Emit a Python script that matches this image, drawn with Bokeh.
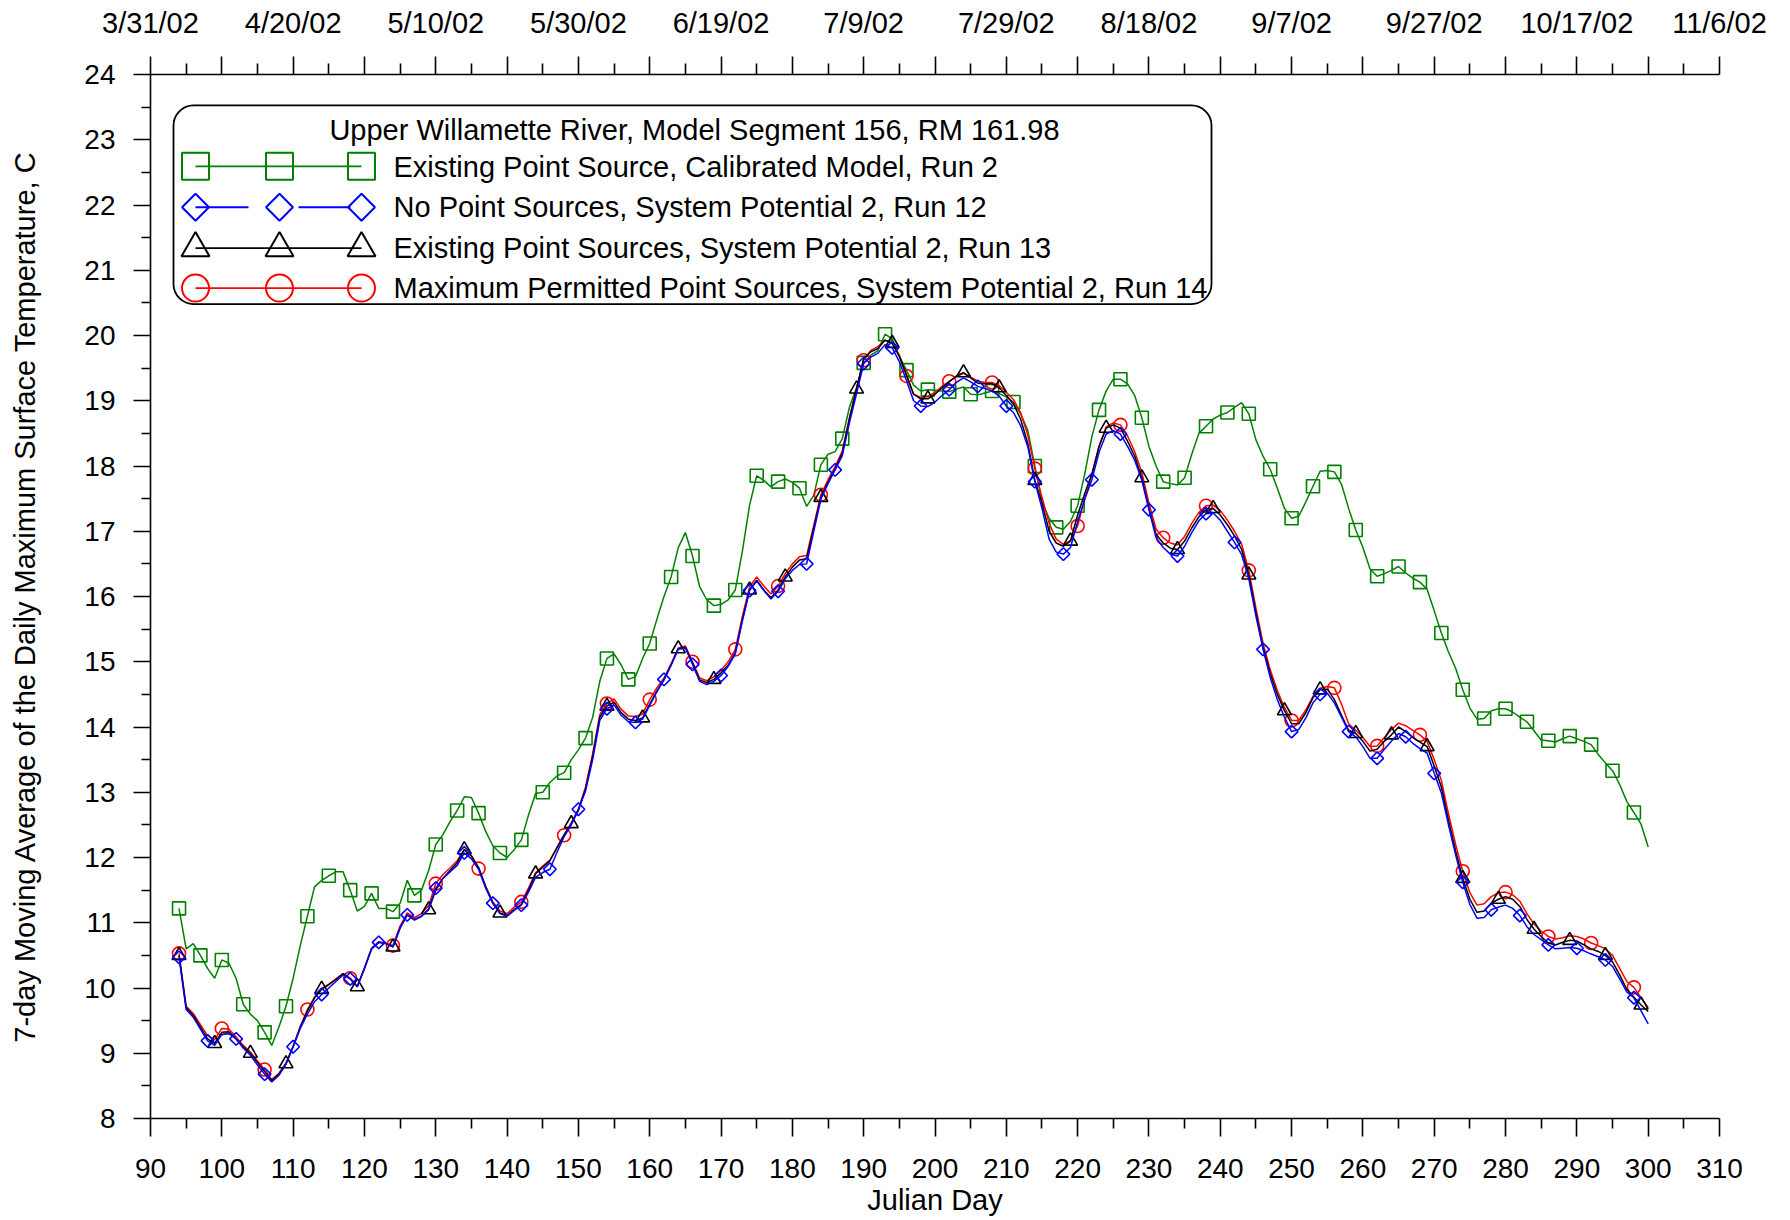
from datetime import date, timedelta
import numpy as np
from bokeh.plotting import figure
from bokeh.models import LinearAxis, FixedTicker, Range1d, BoxAnnotation, Label
from bokeh.embed import file_html
from bokeh.resources import INLINE

# ---------------- data ----------------
days = list(range(94, 301))

run2 = [
    11.22, 10.60, 10.68, 10.50, 10.30, 10.15, 10.43, 10.38, 10.15, 9.75,
    9.60, 9.50, 9.32, 9.12, 9.40, 9.72, 10.15, 10.65, 11.10, 11.55,
    11.65, 11.72, 11.78, 11.78, 11.50, 11.18, 11.25, 11.45, 11.22, 11.22,
    11.17, 11.30, 11.65, 11.42, 11.50, 11.80, 12.20, 12.35, 12.55, 12.72,
    12.93, 12.92, 12.68, 12.40, 12.18, 12.07, 12.00, 12.12, 12.27, 12.65,
    12.98, 13.00, 13.15, 13.25, 13.30, 13.50, 13.65, 13.83, 14.15, 14.70,
    15.05, 15.12, 14.95, 14.73, 14.77, 15.05, 15.28, 15.65, 16.00, 16.30,
    16.75, 16.98, 16.62, 16.15, 15.95, 15.86, 15.88, 15.95, 16.10, 16.70,
    17.40, 17.85, 17.78, 17.68, 17.76, 17.80, 17.75, 17.66, 17.38, 17.55,
    18.02, 18.18, 18.22, 18.42, 18.90, 19.20, 19.58, 19.70, 19.77, 20.02,
    19.95, 19.68, 19.47, 19.24, 19.15, 19.17, 19.16, 19.15, 19.14, 19.18,
    19.21, 19.10, 19.09, 19.12, 19.15, 19.11, 19.06, 18.98, 18.80, 18.55,
    18.00, 17.45, 17.20, 17.06, 17.03, 17.15, 17.39, 17.88, 18.45, 18.86,
    19.15, 19.33, 19.33, 19.26, 19.08, 18.74, 18.30, 18.00, 17.76, 17.73,
    17.71, 17.82, 18.18, 18.50, 18.61, 18.72, 18.78, 18.82, 18.90, 18.97,
    18.80, 18.40, 18.15, 17.95, 17.66, 17.35, 17.20, 17.23, 17.45, 17.69,
    17.92, 17.93, 17.91, 17.72, 17.35, 17.02, 16.75, 16.42, 16.31, 16.35,
    16.40, 16.46, 16.36, 16.28, 16.22, 16.11, 15.78, 15.44, 15.15, 14.90,
    14.57, 14.29, 14.12, 14.13, 14.25, 14.28, 14.28, 14.23, 14.15, 14.08,
    13.94, 13.80, 13.79, 13.77, 13.82, 13.86, 13.82, 13.78, 13.73, 13.58,
    13.45, 13.33, 13.12, 12.86, 12.69, 12.51, 12.16,
]

run12 = [
    10.47, 9.67, 9.55, 9.37, 9.19, 9.12, 9.29, 9.30, 9.22, 9.08,
    8.97, 8.82, 8.68, 8.56, 8.66, 8.83, 9.10, 9.38, 9.60, 9.79,
    9.90, 10.00, 10.10, 10.20, 10.14, 10.02, 10.30, 10.60, 10.70, 10.68,
    10.63, 10.92, 11.12, 11.04, 11.10, 11.21, 11.53, 11.68, 11.78, 11.88,
    12.07, 11.98, 11.82, 11.53, 11.30, 11.14, 11.10, 11.19, 11.27, 11.47,
    11.70, 11.77, 11.82, 12.08, 12.32, 12.50, 12.74, 13.02, 13.50, 14.10,
    14.28, 14.34, 14.18, 14.08, 14.07, 14.12, 14.33, 14.54, 14.73, 14.95,
    15.19, 15.21, 14.96, 14.70, 14.65, 14.70, 14.79, 14.93, 15.12, 15.63,
    16.09, 16.24, 16.09, 15.96, 16.08, 16.27, 16.40, 16.49, 16.50, 17.00,
    17.49, 17.73, 17.94, 18.16, 18.66, 19.11, 19.57, 19.67, 19.73, 19.86,
    19.81, 19.60, 19.31, 19.00, 18.92, 18.91, 18.98, 19.08, 19.17, 19.28,
    19.35, 19.29, 19.22, 19.19, 19.15, 19.07, 18.92, 18.82, 18.62, 18.30,
    17.76, 17.35, 16.88, 16.68, 16.65, 16.75, 17.15, 17.49, 17.79, 18.21,
    18.49, 18.54, 18.49, 18.30, 18.09, 17.78, 17.33, 16.90, 16.75, 16.65,
    16.62, 16.77, 16.98, 17.16, 17.27, 17.28, 17.17, 17.00, 16.83, 16.64,
    16.27, 15.70, 15.19, 14.76, 14.42, 14.15, 13.93, 13.96, 14.14, 14.37,
    14.50, 14.52, 14.37, 14.15, 13.93, 13.85, 13.70, 13.52, 13.52, 13.66,
    13.78, 13.90, 13.85, 13.75, 13.67, 13.60, 13.29, 12.99, 12.50, 12.04,
    11.62, 11.28, 11.07, 11.08, 11.20, 11.24, 11.27, 11.22, 11.11, 10.94,
    10.82, 10.74, 10.66, 10.60, 10.61, 10.62, 10.61, 10.57, 10.52, 10.48,
    10.43, 10.33, 10.14, 9.94, 9.85, 9.65, 9.45,
]

run13 = [
    10.50, 9.70, 9.58, 9.40, 9.22, 9.15, 9.32, 9.33, 9.22, 9.10,
    9.00, 8.86, 8.72, 8.58, 8.68, 8.84, 9.10, 9.40, 9.65, 9.85,
    9.98, 10.05, 10.13, 10.22, 10.14, 10.02, 10.30, 10.60, 10.70, 10.68,
    10.63, 10.92, 11.12, 11.05, 11.10, 11.20, 11.50, 11.68, 11.80, 11.92,
    12.12, 12.02, 11.85, 11.55, 11.30, 11.15, 11.11, 11.20, 11.28, 11.50,
    11.75, 11.85, 11.95, 12.15, 12.35, 12.52, 12.72, 13.05, 13.55, 14.15,
    14.32, 14.38, 14.22, 14.12, 14.10, 14.14, 14.35, 14.55, 14.72, 14.95,
    15.20, 15.22, 14.98, 14.72, 14.68, 14.73, 14.83, 14.95, 15.14, 15.65,
    16.10, 16.25, 16.10, 15.98, 16.10, 16.30, 16.45, 16.56, 16.58, 17.05,
    17.52, 17.75, 17.96, 18.20, 18.72, 19.18, 19.65, 19.75, 19.80, 19.93,
    19.88, 19.68, 19.40, 19.10, 19.03, 19.03, 19.10, 19.20, 19.29, 19.38,
    19.43, 19.35, 19.27, 19.26, 19.26, 19.20, 19.08, 18.95, 18.72, 18.35,
    17.78, 17.43, 17.00, 16.82, 16.77, 16.85, 17.25, 17.58, 17.88, 18.30,
    18.58, 18.63, 18.58, 18.38, 18.15, 17.82, 17.35, 16.95, 16.82, 16.74,
    16.72, 16.85, 17.05, 17.22, 17.33, 17.35, 17.25, 17.10, 16.93, 16.72,
    16.33, 15.75, 15.22, 14.82, 14.50, 14.25, 14.05, 14.05, 14.22, 14.45,
    14.57, 14.58, 14.42, 14.18, 13.95, 13.90, 13.78, 13.63, 13.66, 13.78,
    13.88, 14.00, 13.93, 13.84, 13.77, 13.70, 13.40, 13.08, 12.57, 12.10,
    11.68, 11.36, 11.16, 11.18, 11.30, 11.36, 11.40, 11.36, 11.25, 11.05,
    10.90, 10.79, 10.69, 10.66, 10.70, 10.73, 10.72, 10.66, 10.60, 10.56,
    10.50, 10.40, 10.20, 9.98, 9.86, 9.74, 9.64,
]

run14 = [
    10.53, 9.72, 9.61, 9.44, 9.27, 9.21, 9.38, 9.37, 9.25, 9.12,
    9.02, 8.88, 8.75, 8.60, 8.69, 8.85, 9.11, 9.41, 9.67, 9.86,
    9.99, 10.06, 10.14, 10.22, 10.15, 10.03, 10.31, 10.61, 10.71, 10.69,
    10.65, 10.95, 11.15, 11.08, 11.14, 11.26, 11.60, 11.74, 11.84, 11.95,
    12.12, 12.03, 11.83, 11.56, 11.32, 11.18, 11.14, 11.24, 11.32, 11.53,
    11.77, 11.87, 11.96, 12.15, 12.34, 12.53, 12.74, 13.08, 13.59, 14.19,
    14.36, 14.43, 14.27, 14.17, 14.16, 14.20, 14.42, 14.60, 14.75, 14.97,
    15.21, 15.24, 15.00, 14.75, 14.71, 14.77, 14.87, 15.00, 15.19, 15.70,
    16.15, 16.30, 16.16, 16.04, 16.16, 16.35, 16.50, 16.61, 16.63, 17.09,
    17.56, 17.79, 17.99, 18.23, 18.74, 19.19, 19.62, 19.77, 19.83, 19.93,
    19.88, 19.70, 19.38, 19.10, 19.05, 19.06, 19.13, 19.22, 19.30, 19.37,
    19.42, 19.36, 19.30, 19.28, 19.28, 19.23, 19.13, 19.02, 18.82, 18.48,
    17.96, 17.52, 17.12, 16.88, 16.80, 16.86, 17.08, 17.50, 17.86, 18.30,
    18.60, 18.66, 18.63, 18.46, 18.22, 17.90, 17.43, 17.03, 16.90, 16.82,
    16.79, 16.92, 17.12, 17.29, 17.39, 17.40, 17.32, 17.17, 17.00, 16.80,
    16.40, 15.82, 15.28, 14.88, 14.56, 14.30, 14.10, 14.10, 14.26, 14.47,
    14.59, 14.62, 14.60, 14.35, 14.05, 13.95, 13.84, 13.70, 13.71, 13.84,
    13.96, 14.06, 14.02, 13.95, 13.88, 13.78, 13.50, 13.18, 12.67, 12.20,
    11.79, 11.46, 11.27, 11.29, 11.40, 11.46, 11.47, 11.43, 11.33, 11.14,
    10.98, 10.87, 10.79, 10.75, 10.77, 10.80, 10.79, 10.75, 10.69, 10.65,
    10.60, 10.50, 10.30, 10.10, 10.01, 9.85, 9.70,
]

x_major = list(range(90, 311, 10))
x_minor = list(range(95, 310, 10))
y_major = list(range(8, 25))
y_minor = [v + 0.5 for v in range(8, 24)]
date_ticks = list(range(90, 311, 20))

legend_title = "Upper Willamette River, Model Segment 156, RM 161.98"
series_names = [
    "Existing Point Source, Calibrated Model, Run 2",
    "No Point Sources, System Potential 2, Run 12",
    "Existing Point Sources, System Potential 2, Run 13",
    "Maximum Permitted Point Sources, System Potential 2, Run 14",
]

# ---------------- layout / style ----------------
FONT = "Liberation Sans"
FS_NUM = "28px"
FS_TXT = "29px"
X0, X1, Y0, Y1 = 90, 310, 8, 24
BL, BR, BT, BB = 150, 64, 74, 98
FRAME_W, FRAME_H = 1569, 1046
W, H = BL + FRAME_W + BR, BT + FRAME_H + BB
# frame edges on the page (pixels)
FL, FR = BL, BL + FRAME_W
FT, FB = BT, BT + FRAME_H


def px_x(px):
    return X0 + (px - FL) * (X1 - X0) / (FR - FL)


def px_y(py):
    return Y1 - (py - FT) * (Y1 - Y0) / (FB - FT)


p = figure(width=W, height=H, x_range=Range1d(X0, X1), y_range=Range1d(Y0, Y1),
           output_backend="svg", toolbar_location=None,
           min_border_left=BL, min_border_right=BR, min_border_top=BT, min_border_bottom=BB)
p.xgrid.visible = False
p.ygrid.visible = False
p.outline_line_color = None
p.background_fill_color = "white"
p.border_fill_color = "white"


def style_axis(ax, standoff, fs):
    ax.axis_line_color = "black"
    ax.axis_line_width = 1.6
    ax.major_tick_line_color = "black"
    ax.minor_tick_line_color = "black"
    ax.major_tick_line_width = 1.6
    ax.minor_tick_line_width = 1.6
    ax.major_tick_in = 0
    ax.minor_tick_in = 0
    ax.major_tick_out = 18
    ax.minor_tick_out = 10
    ax.major_label_text_font = FONT
    ax.major_label_text_font_size = fs
    ax.major_label_text_color = "black"
    ax.major_label_standoff = standoff
    ax.axis_label_text_font = FONT
    ax.axis_label_text_font_size = FS_TXT
    ax.axis_label_text_font_style = "normal"
    ax.axis_label_text_color = "black"


xa = p.xaxis[0]
xa.ticker = FixedTicker(ticks=x_major, minor_ticks=x_minor)
xa.axis_label = "Julian Day"
style_axis(xa, 22, FS_NUM)
xa.axis_label_standoff = 3

ya = p.yaxis[0]
ya.ticker = FixedTicker(ticks=y_major, minor_ticks=y_minor)
ya.axis_label = "7-day Moving Average of the Daily Maximum Surface Temperature, C"
style_axis(ya, 18, FS_NUM)
ya.major_tick_out = 17
ya.minor_tick_out = 9
ya.axis_label_standoff = 40

overrides = {}
for d in x_major:
    if d in date_ticks:
        dt = date(2001, 12, 31) + timedelta(days=d)
        overrides[d] = f"{dt.month}/{dt.day}/{dt.strftime('%y')}"
    else:
        overrides[d] = ""
top = LinearAxis(ticker=FixedTicker(ticks=x_major, minor_ticks=x_minor),
                 major_label_overrides=overrides)
style_axis(top, 18, FS_TXT)
top.minor_tick_out = 11
p.add_layout(top, "above")

# ---------------- series ----------------
series = [
    (run2, "#008000", "square", 13, 0, 3),
    (run14, "#FF0000", "circle", 13, 0, 6),
    (run13, "#000000", "triangle", 14, 0, 5),
    (run12, "#0000FF", "square", 9, np.pi / 4, 4),
]
for vals, col, mk, sz, ang, step in series:
    p.line(days, vals, line_color=col, line_width=1.5)
    p.scatter(days[::step], vals[::step], marker=mk, size=sz, angle=ang,
              line_color=col, fill_color=None, line_width=1.6)

# ---------------- legend (drawn) ----------------
box = BoxAnnotation(left=px_x(173), right=px_x(1211), top=px_y(105), bottom=px_y(304),
                    fill_color=None, fill_alpha=0, line_color="black", line_alpha=1.0,
                    line_width=1.8, border_radius=20)
p.add_layout(box)
p.add_layout(Label(x=px_x(694), y=px_y(130), text=legend_title, text_font=FONT,
                   text_font_size=FS_TXT, text_align="center", text_baseline="middle",
                   text_color="black"))

leg_rows = [
    (series_names[0], "#008000", "square", 27, 0, 166, 167),
    (series_names[1], "#0000FF", "square", 19, np.pi / 4, 207, 207),
    (series_names[2], "#000000", "triangle", 28, 0, 248, 248),
    (series_names[3], "#FF0000", "circle", 27, 0, 288, 288),
]
mx = [px_x(195), px_x(279), px_x(361)]
for name, col, mk, sz, ang, yc, ty in leg_rows:
    yy = px_y(yc)
    if col == "#0000FF":
        p.line([px_x(195), px_x(248)], [yy, yy], line_color=col, line_width=1.8)
        p.line([px_x(298), px_x(350)], [yy, yy], line_color=col, line_width=1.8)
    else:
        p.line([mx[0], mx[2]], [yy, yy], line_color=col, line_width=1.8)
    p.scatter(mx, [yy] * 3, marker=mk, size=sz, angle=ang, line_color=col,
              fill_color=None, line_width=2)
    p.add_layout(Label(x=px_x(393), y=px_y(ty), text=name, text_font=FONT,
                       text_font_size=FS_TXT, text_align="left", text_baseline="middle",
                       text_color="black"))

open("out.html", "w").write(file_html(p, INLINE))
